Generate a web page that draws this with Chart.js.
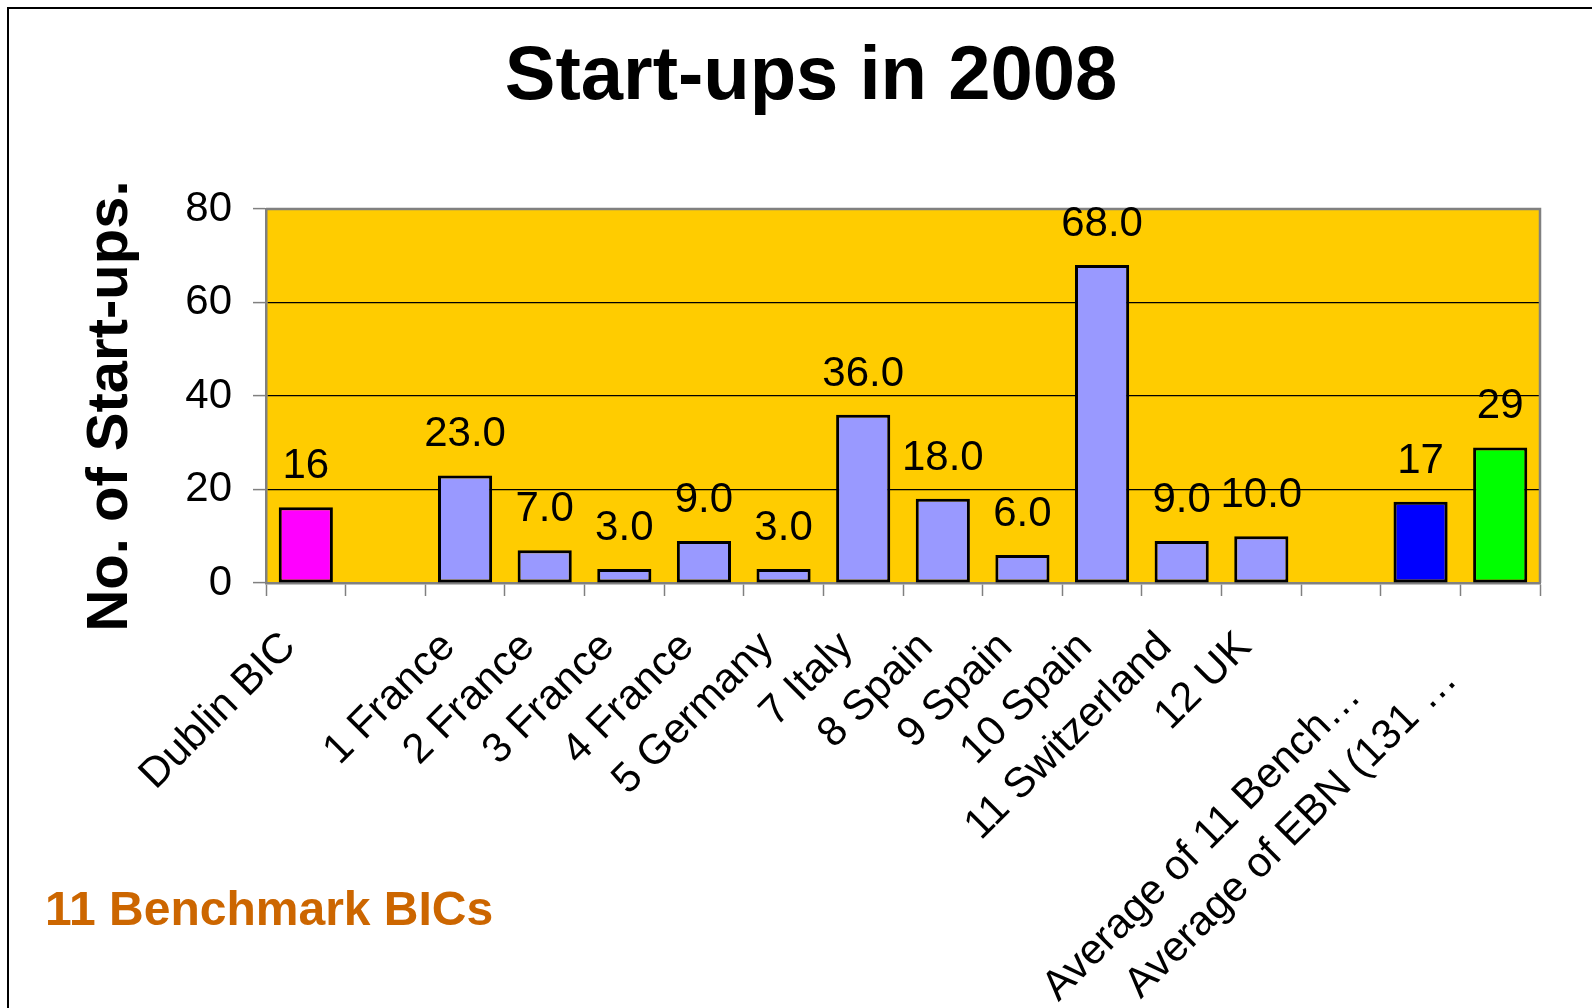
<!DOCTYPE html>
<html>
<head>
<meta charset="utf-8">
<title>Start-ups in 2008</title>
<script src="https://cdn.jsdelivr.net/npm/chart.js@4.4.0/dist/chart.umd.min.js"></script>
<style>
    html, body { margin: 0; padding: 0; background: #fff; }
    #wrap { width: 1592px; height: 1008px; position: relative; }
</style>
</head>
<body>
<div id="wrap"><canvas id="startupsChart"></canvas></div>
<script>
const chartTitle = 'Start-ups in 2008';
const yAxisTitle = 'No. of Start-ups.';
const footNote = '11 Benchmark BICs';

// one slot per bar, blanks keep the gaps seen in the original
const categories = [
    'Dublin BIC', '', '1 France', '2 France', '3 France', '4 France',
    '5 Germany', '7 Italy', '8 Spain', '9 Spain', '10 Spain',
    '11 Switzerland', '12 UK', '', 'Average of 11 Bench\u2026', 'Average of EBN (131 \u2026'
];
const startups = [16.2, null, 23, 7, 3, 9, 3, 36, 18, 6, 68, 9, 10, null, 17.4, 29];
const labelDecimals = [0, null, 1, 1, 1, 1, 1, 1, 1, 1, 1, 1, 1, null, 0, 0];
const barColors = [
    '#FF00FF', null, '#9999FF', '#9999FF', '#9999FF', '#9999FF',
    '#9999FF', '#9999FF', '#9999FF', '#9999FF', '#9999FF',
    '#9999FF', '#9999FF', null, '#0000FF', '#00FF00'
];
const yMin = 0;
const yMax = 80;
const yStep = 20;

const FONT = '"Liberation Sans", Arial, sans-serif';
const TICK_SIZE = 42;
Chart.defaults.font.family = FONT;
Chart.defaults.color = '#000';

// excel keeps a fixed box for cut-off labels, so the visible text ends short of the tick
const measureCtx = document.createElement('canvas').getContext('2d');
measureCtx.font = TICK_SIZE + 'px ' + FONT;
function padLabel(s) {
    let out = s;
    if (s.endsWith('\u2026')) {
        while (measureCtx.measureText(out).width < 490) out += ' ';
    }
    return out + '  ';
}

const pagePlugin = {
    id: 'pagePlugin',
    beforeDraw(chart) {
        const { ctx, chartArea: a } = chart;
        ctx.save();
        ctx.fillStyle = '#fff';
        ctx.fillRect(0, 0, chart.width, chart.height);
        // plot area fill
        ctx.fillStyle = '#FFCC00';
        ctx.fillRect(a.left, a.top, a.right - a.left, a.bottom - a.top);
        // slide frame (left + top edge)
        ctx.strokeStyle = '#000';
        ctx.lineWidth = 2;
        ctx.beginPath();
        ctx.moveTo(8, chart.height);
        ctx.lineTo(8, 8);
        ctx.lineTo(chart.width, 8);
        ctx.stroke();
        // title
        ctx.fillStyle = '#000';
        ctx.font = 'bold 76px ' + FONT;
        ctx.textAlign = 'center';
        ctx.textBaseline = 'alphabetic';
        ctx.fillText(chartTitle, 811, 99);
        // y axis title
        ctx.save();
        ctx.translate(127, 406);
        ctx.rotate(-Math.PI / 2);
        ctx.font = 'bold 58px ' + FONT;
        ctx.fillText(yAxisTitle, 0, 0);
        ctx.restore();
        // note at bottom left
        ctx.fillStyle = '#CC6600';
        ctx.font = 'bold 48px ' + FONT;
        ctx.textAlign = 'left';
        ctx.fillText(footNote, 45, 925);
        ctx.restore();
    },
    beforeDatasetsDraw(chart) {
        const { ctx, chartArea: a } = chart;
        ctx.save();
        ctx.strokeStyle = '#808080';
        ctx.lineWidth = 2.5;
        ctx.beginPath();
        ctx.moveTo(a.left, a.top);
        ctx.lineTo(a.right, a.top);
        ctx.lineTo(a.right, a.bottom);
        ctx.stroke();
        ctx.restore();
    },
    afterDatasetsDraw(chart) {
        const { ctx } = chart;
        const meta = chart.getDatasetMeta(0);
        ctx.save();
        ctx.fillStyle = '#000';
        ctx.font = TICK_SIZE + 'px ' + FONT;
        ctx.textAlign = 'center';
        ctx.textBaseline = 'alphabetic';
        meta.data.forEach((bar, i) => {
            const v = startups[i];
            if (v === null) return;
            ctx.fillText(v.toFixed(labelDecimals[i]), bar.x, bar.y - 29);
        });
        ctx.restore();
    }
};

new Chart(document.getElementById('startupsChart').getContext('2d'), {
    type: 'bar',
    data: {
        labels: categories,
        datasets: [{
            data: startups,
            backgroundColor: barColors,
            borderColor: '#000',
            borderWidth: 3,
            borderSkipped: false,
            categoryPercentage: 1.0,
            barPercentage: 0.68
        }]
    },
    plugins: [pagePlugin],
    options: {
        responsive: true,
        maintainAspectRatio: false,
        animation: false,
        layout: { padding: { left: 0, top: 209, right: 52, bottom: 0 } },
        plugins: {
            legend: { display: false },
            tooltip: { enabled: false }
        },
        scales: {
            x: {
                offset: true,
                grid: {
                    offset: true,
                    drawOnChartArea: false,
                    drawTicks: true,
                    tickLength: 13,
                    tickColor: '#808080',
                    tickWidth: 1.5
                },
                border: { display: true, color: '#808080', width: 2.5 },
                ticks: {
                    autoSkip: false,
                    maxRotation: 45,
                    minRotation: 45,
                    padding: 10,
                    color: '#000',
                    font: { size: TICK_SIZE },
                    callback(value) {
                        const s = this.getLabelForValue(value);
                        return s ? padLabel(s) : s;
                    }
                },
                afterFit(scale) { scale.height = 425; }
            },
            y: {
                min: yMin,
                max: yMax,
                ticks: {
                    stepSize: yStep,
                    padding: 21,
                    color: '#000',
                    font: { size: TICK_SIZE }
                },
                grid: {
                    color: c => (c.tick && (c.tick.value === yMin || c.tick.value === yMax)) ? 'rgba(0,0,0,0)' : '#000',
                    lineWidth: 1.2,
                    drawTicks: true,
                    tickLength: 13,
                    tickColor: '#808080',
                    tickWidth: 1.5
                },
                border: { display: true, color: '#808080', width: 2.5 },
                afterFit(scale) { scale.width = 266; }
            }
        }
    }
});
</script>
</body>
</html>
